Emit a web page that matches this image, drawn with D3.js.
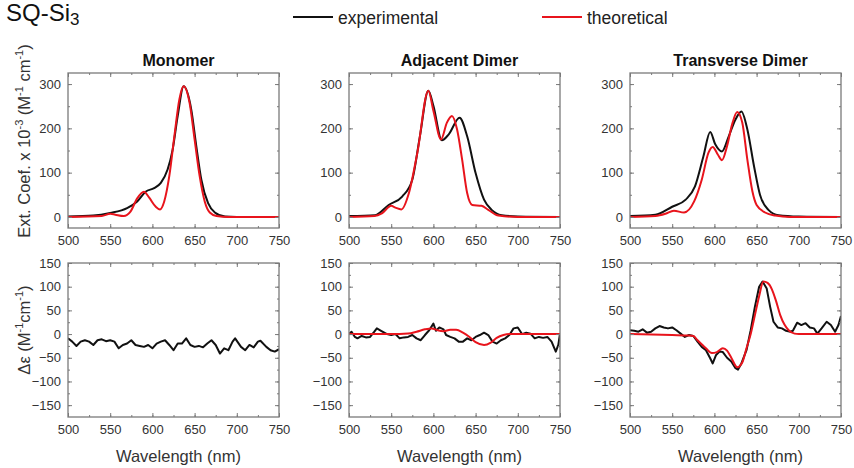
<!DOCTYPE html>
<html><head><meta charset="utf-8">
<script src="https://cdn.jsdelivr.net/npm/d3@7/dist/d3.min.js"></script>
<style>
body{margin:0;background:#fff;}
svg{display:block;font-family:"Liberation Sans",Arial,sans-serif;}
</style></head>
<body><svg id="chart" width="854" height="468"></svg>
<script>
// ---------- DATA ----------
const panelTitles = ["Monomer", "Adjacent Dimer", "Transverse Dimer"];
const xTicks = [500, 550, 600, 650, 700, 750];
const absTicks = [0, 100, 200, 300];
const cdTicks = [-150, -100, -50, 0, 50, 100, 150];

// Absorption (Ext. coef. x 10^-3)
const monoExpX = [500,530,550,570,582,592,602,610,618,624,630,637,646,652,658,666,674,686,700,750];
const monoExpY = [1,3,9,20,35,57,65,77,107,152,228,295,243,160,84,31,10,1,0,0];
const monoTheoX = [500,540,550,556,566,574,582,590,596,604,609,614,620,626,632,637,644,650,656,662,668,676,690,750];
const monoTheoY = [0,2,7,5,2,12,42,57,44,23,17,35,92,182,266,295,258,175,92,35,10,2,0,0];

const adjExpX = [500,531,547,563,575,584,594,600,610,618,631,640,650,660,669,681,700,750];
const adjExpY = [2,4,27,46,84,182,285,251,173,186,224,182,99,39,16,4,1,0];
const adjTheoX = [500,530,539,550,555,562,571,581,594,600,609,616,622,628,634,640,646,657,665,677,700,750];
const adjTheoY = [0,2,8,25,21,17,54,145,285,240,175,213,228,198,130,54,27,25,16,3,0,0];

const trExpX = [500,530,550,566,577,587,595,601,609,617,625,632,639,647,654,664,676,700,750];
const trExpY = [2,5,23,39,69,137,192,164,148,182,220,238,198,114,50,16,4,1,0];
const trTheoX = [500,530,542,552,564,576,585,593,598,604,609,615,621,627,633,639,645,650,660,672,690,750];
const trTheoY = [0,2,7,14,10,35,84,145,158,141,128,160,209,237,213,130,58,27,10,3,0,0];

// CD (Δε)
const monoCdExpX = [500,505,510,515,520,525,530,535,540,545,550,555,560,565,570,575,580,585,590,595,600,605,610,615,620,625,630,635,640,645,650,655,660,665,670,675,680,685,690,695,698,705,710,715,720,725,728,735,740,745,750];
const monoCdExpY = [-9,-16,-25,-16,-13,-16,-23,-13,-11,-15,-13,-16,-30,-23,-20,-13,-23,-25,-27,-23,-30,-20,-16,-13,-23,-34,-20,-20,-9,-23,-27,-25,-28,-20,-13,-23,-41,-30,-34,-16,-9,-27,-34,-23,-28,-16,-14,-27,-34,-37,-32];

const adjCdExpX = [500,503,507,510,515,520,525,530,533,538,545,550,555,560,565,570,575,580,585,590,595,600,603,607,612,615,620,625,630,635,640,645,650,655,660,665,670,675,680,685,690,695,700,705,710,715,720,725,730,735,740,745,748,750];
const adjCdExpY = [0,5,-6,-9,-4,-7,-6,5,12,7,0,-2,0,-9,-7,-6,-2,-9,-13,-2,8,22,7,14,10,-2,-6,-9,-16,-16,-9,-13,-6,-2,3,-2,-16,-20,-13,-9,-2,12,14,0,3,1,-9,-6,-8,-6,-16,-37,-23,1];
const adjCdTheoX = [500,560,570,580,590,598,605,612,620,627,635,642,650,660,668,675,683,690,750];
const adjCdTheoY = [0,0,1,5,10,12,8,6,9,9,3,-5,-17,-23,-18,-8,-2,0,0];

const trCdExpX = [500,505,510,515,520,525,530,535,540,545,550,555,560,565,570,575,580,585,590,595,598,602,606,610,615,620,625,628,632,638,643,648,653,657,662,666,670,675,680,685,690,693,698,703,708,713,718,722,727,733,738,743,747,750];
const trCdExpY = [8,7,5,10,3,5,12,17,14,12,14,8,1,-6,-2,-4,-16,-27,-34,-51,-62,-44,-37,-38,-50,-58,-72,-75,-62,-34,8,58,100,111,96,58,26,14,12,7,5,7,24,19,23,14,12,1,12,26,19,5,19,38];
const trCdTheoX = [500,550,570,575,580,590,597,603,610,615,620,627,633,638,643,648,653,658,663,668,673,678,683,688,695,700,750];
const trCdTheoY = [0,-2,-3,-4,-13,-30,-40,-38,-30,-35,-50,-70,-60,-30,0,40,80,111,108,95,70,40,20,8,1,0,0];

// ---------- LAYOUT ----------
const svg = d3.select("#chart");
const EXP = "#111111", THEO = "#e8141c", FRAME = "#7a7a7a", TXT = "#333";
const lefts = [68, 349, 630], W = 211;
const topRow = {y0: 73, y1: 228, domain: [-25, 325], ticks: absTicks, minor: 50};
const botRow = {y0: 263, y1: 417, domain: [-175, 150], ticks: cdTicks, minor: 25};

const zip = (xs, ys) => xs.map((x, i) => [x, ys[i]]);
const absSeries = [
  [zip(monoExpX, monoExpY), zip(monoTheoX, monoTheoY)],
  [zip(adjExpX, adjExpY), zip(adjTheoX, adjTheoY)],
  [zip(trExpX, trExpY), zip(trTheoX, trTheoY)]
];
const cdSeries = [
  [zip(monoCdExpX, monoCdExpY), null],
  [zip(adjCdExpX, adjCdExpY), zip(adjCdTheoX, adjCdTheoY)],
  [zip(trCdExpX, trCdExpY), zip(trCdTheoX, trCdTheoY)]
];

function panel(left, row, series, smooth) {
  const x = d3.scaleLinear().domain([500, 750]).range([left, left + W]);
  const y = d3.scaleLinear().domain(row.domain).range([row.y1, row.y0]);
  const g = svg.append("g");
  const clipId = "c" + left + "_" + row.y0;
  g.append("clipPath").attr("id", clipId).append("rect")
    .attr("x", left).attr("y", row.y0).attr("width", W).attr("height", row.y1 - row.y0);

  const line = d3.line().x(d => x(d[0])).y(d => y(d[1]))
    .curve(smooth ? d3.curveMonotoneX : d3.curveLinear);
  const lines = g.append("g").attr("clip-path", `url(#${clipId})`);
  if (series[0]) lines.append("path").datum(series[0]).attr("d", line)
    .attr("fill", "none").attr("stroke", EXP).attr("stroke-width", 2).attr("stroke-linejoin", "round");
  if (series[1]) lines.append("path").datum(series[1])
    .attr("d", d3.line().x(d => x(d[0])).y(d => y(d[1])).curve(d3.curveMonotoneX))
    .attr("fill", "none").attr("stroke", THEO).attr("stroke-width", 2);

  // axes (inward ticks, mirrored)
  const minorX = d3.range(500, 751, 25);
  const minorY = d3.range(row.ticks[0], row.ticks[row.ticks.length - 1] + 1, row.minor);
  const styleAxis = sel => { sel.select(".domain").remove();
    sel.selectAll(".tick line").attr("stroke", FRAME).attr("stroke-width", 1); };

  g.append("g").attr("transform", `translate(0,${row.y1})`)
    .call(d3.axisBottom(x).tickValues(minorX).tickSize(-2).tickFormat("")).call(styleAxis);
  g.append("g").attr("transform", `translate(0,${row.y1})`)
    .call(d3.axisBottom(x).tickValues(xTicks).tickSize(-4).tickPadding(8).tickFormat(d3.format("d")))
    .call(styleAxis)
    .call(s => s.selectAll("text").attr("fill", TXT).attr("font-size", 13).attr("font-family", "Liberation Sans, Arial, sans-serif"));
  g.append("g").attr("transform", `translate(0,${row.y0})`)
    .call(d3.axisTop(x).tickValues(minorX).tickSize(-2).tickFormat("")).call(styleAxis);
  g.append("g").attr("transform", `translate(0,${row.y0})`)
    .call(d3.axisTop(x).tickValues(xTicks).tickSize(-4).tickFormat("")).call(styleAxis);

  g.append("g").attr("transform", `translate(${left},0)`)
    .call(d3.axisLeft(y).tickValues(minorY).tickSize(-2).tickFormat("")).call(styleAxis);
  g.append("g").attr("transform", `translate(${left},0)`)
    .call(d3.axisLeft(y).tickValues(row.ticks).tickSize(-4).tickPadding(7).tickFormat(d3.format("d")))
    .call(styleAxis)
    .call(s => s.selectAll("text").attr("fill", TXT).attr("font-size", 13).attr("font-family", "Liberation Sans, Arial, sans-serif"));
  g.append("g").attr("transform", `translate(${left + W},0)`)
    .call(d3.axisRight(y).tickValues(minorY).tickSize(-2).tickFormat("")).call(styleAxis);
  g.append("g").attr("transform", `translate(${left + W},0)`)
    .call(d3.axisRight(y).tickValues(row.ticks).tickSize(-4).tickFormat("")).call(styleAxis);

  g.append("rect").attr("x", left).attr("y", row.y0).attr("width", W).attr("height", row.y1 - row.y0)
    .attr("fill", "none").attr("stroke", FRAME).attr("stroke-width", 1.3);
}

lefts.forEach((l, i) => {
  panel(l, topRow, absSeries[i], true);
  panel(l, botRow, cdSeries[i], false);
  svg.append("text").attr("x", l + W / 2 + 5).attr("y", 66).attr("text-anchor", "middle")
    .attr("font-size", 16).attr("font-weight", "bold").attr("fill", "#111").text(panelTitles[i]);
  svg.append("text").attr("x", l + W / 2 + 5).attr("y", 462).attr("text-anchor", "middle")
    .attr("font-size", 16.5).attr("fill", TXT).text("Wavelength (nm)");
});

// Figure title
const t = svg.append("text").attr("x", 6).attr("y", 21).attr("font-size", 24).attr("fill", "#111");
t.append("tspan").text("SQ-Si");
t.append("tspan").attr("font-size", 17).attr("dy", 4).text("3");

// Legend
const legend = [["experimental", EXP, 293], ["theoretical", THEO, 542]];
legend.forEach(([lab, col, lx]) => {
  svg.append("line").attr("x1", lx).attr("x2", lx + 40).attr("y1", 17).attr("y2", 17)
    .attr("stroke", col).attr("stroke-width", 1.8);
  svg.append("text").attr("x", lx + 45).attr("y", 24).attr("font-size", 17.5).attr("fill", "#222").text(lab);
});

// Y-axis titles
const yl1 = svg.append("text").attr("transform", "translate(30,141) rotate(-90)")
  .attr("text-anchor", "middle").attr("font-size", 16.5).attr("fill", TXT);
yl1.append("tspan").text("Ext. Coef. x 10");
yl1.append("tspan").attr("font-size", 11).attr("dy", -7).text("-3");
yl1.append("tspan").attr("dy", 7).text(" (M");
yl1.append("tspan").attr("font-size", 11).attr("dy", -7).text("-1");
yl1.append("tspan").attr("dy", 7).text(" cm");
yl1.append("tspan").attr("font-size", 11).attr("dy", -7).text("-1");
yl1.append("tspan").attr("dy", 7).text(")");

const yl2 = svg.append("text").attr("transform", "translate(30,330) rotate(-90)")
  .attr("text-anchor", "middle").attr("font-size", 16.5).attr("fill", TXT);
yl2.append("tspan").text("Δε (M");
yl2.append("tspan").attr("font-size", 11).attr("dy", -7).text("-1");
yl2.append("tspan").attr("dy", 7).text("cm");
yl2.append("tspan").attr("font-size", 11).attr("dy", -7).text("-1");
yl2.append("tspan").attr("dy", 7).text(")");
</script></body></html>
